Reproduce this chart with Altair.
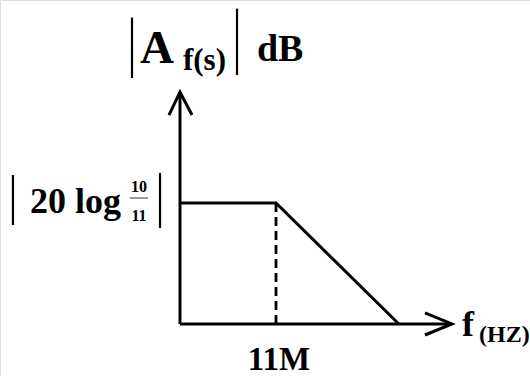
import altair as alt
import pandas as pd

# Asymptotic magnitude response, schematic units:
# corner frequency (11M) sits at x = 1, passband level |20 log 10/11| at y = 1.
freq = [0.0, 1.0, 2.28]
gain = [1.0, 1.0, 0.0]
corner_freq = 1.0
corner_label = "11M"

# Axis extents (arrow tips) in the same schematic units
x_axis_end = 2.833
y_axis_end = 1.917

W, H = 530, 376
X_DOMAIN = [-1.875, 3.646]
Y_DOMAIN = [-0.430, 2.678]

xs = alt.Scale(domain=X_DOMAIN, range=[0, W], nice=False, zero=False)
ys = alt.Scale(domain=Y_DOMAIN, range=[H, 0], nice=False, zero=False)
FONT = "'Liberation Serif', 'Times New Roman', 'DejaVu Serif', serif"


def X(field="x"):
    return alt.X(f"{field}:Q", scale=xs, axis=None)


def Y(field="y"):
    return alt.Y(f"{field}:Q", scale=ys, axis=None)


# Axes with chevron arrowheads
axis_rows = []
for seg, pts in enumerate([
    [(0, 0), (x_axis_end, 0)],
    [(0, 0), (0, y_axis_end)],
    [(x_axis_end - 0.281, 0.091), (x_axis_end, 0), (x_axis_end - 0.281, -0.091)],
    [(-0.115, y_axis_end - 0.19), (0, y_axis_end), (0.125, y_axis_end - 0.19)],
]):
    for k, (a, b) in enumerate(pts):
        axis_rows.append({"seg": seg, "k": k, "x": a, "y": b})
axes_df = pd.DataFrame(axis_rows)

axes_layer = alt.Chart(axes_df).mark_line(
    color="black", strokeWidth=3, strokeJoin="miter", strokeCap="butt"
).encode(x=X(), y=Y(), detail="seg:N", order="k:Q")

# Magnitude curve
resp_df = pd.DataFrame({"x": freq, "y": gain, "k": range(len(freq))})
resp_layer = alt.Chart(resp_df).mark_line(
    color="black", strokeWidth=3, strokeJoin="miter"
).encode(x=X(), y=Y(), order="k:Q")

# Dashed drop line at the corner frequency
drop_df = pd.DataFrame({"x": [corner_freq], "y": [0.0], "y2": [gain[1]]})
drop_layer = alt.Chart(drop_df).mark_rule(
    color="black", strokeWidth=2.8, strokeDash=[9, 5]
).encode(x=X(), y=Y(), y2="y2:Q")

# Absolute-value bars around the labels
bars_df = pd.DataFrame({
    "x": [-0.500, 0.594, -1.740, -0.208],
    "y": [2.533, 2.607, 1.231, 1.248],
    "y2": [2.033, 2.058, 0.818, 0.793],
})
bars_layer = alt.Chart(bars_df).mark_rule(color="black", strokeWidth=2.2).encode(
    x=X(), y=Y(), y2="y2:Q"
)

# Fraction bar of 10/11
frac_df = pd.DataFrame({"x": [-0.521], "x2": [-0.333], "y": [1.041]})
frac_layer = alt.Chart(frac_df).mark_rule(color="#555555", strokeWidth=1.2).encode(
    x=X(), x2="x2:Q", y=Y()
)

# Left-aligned labels
left_df = pd.DataFrame({
    "label": ["A", "f(s)", "dB", "20 log", "f", "(HZ)"],
    "x": [-0.417, 0.031, 0.802, -1.563, 2.938, 3.115],
    "y": [2.157, 2.099, 2.174, 0.917, -0.099, -0.153],
    "size": [47, 31, 38, 36, 36, 24],
})
left_layer = alt.Chart(left_df).mark_text(
    align="left", baseline="alphabetic", font=FONT, fontWeight="bold", color="black"
).encode(x=X(), y=Y(), text="label:N", size=alt.Size("size:Q", scale=None, legend=None))

# Centered labels
center_df = pd.DataFrame({
    "label": ["10", "11", corner_label],
    "x": [-0.427, -0.427, corner_freq + 0.03],
    "y": [1.091, 0.851, -0.380],
    "size": [16, 16, 33],
})
center_layer = alt.Chart(center_df).mark_text(
    align="center", baseline="alphabetic", font=FONT, fontWeight="bold", color="black"
).encode(x=X(), y=Y(), text="label:N", size=alt.Size("size:Q", scale=None, legend=None))

chart = alt.layer(
    axes_layer, resp_layer, drop_layer, bars_layer, frac_layer, left_layer, center_layer
).properties(
    width=W, height=H, padding=0, autosize=alt.AutoSizeParams(type="none")
).configure_view(stroke=None).configure(background="white")

chart.save("out.html", embed_options={"renderer": "svg", "actions": False})
